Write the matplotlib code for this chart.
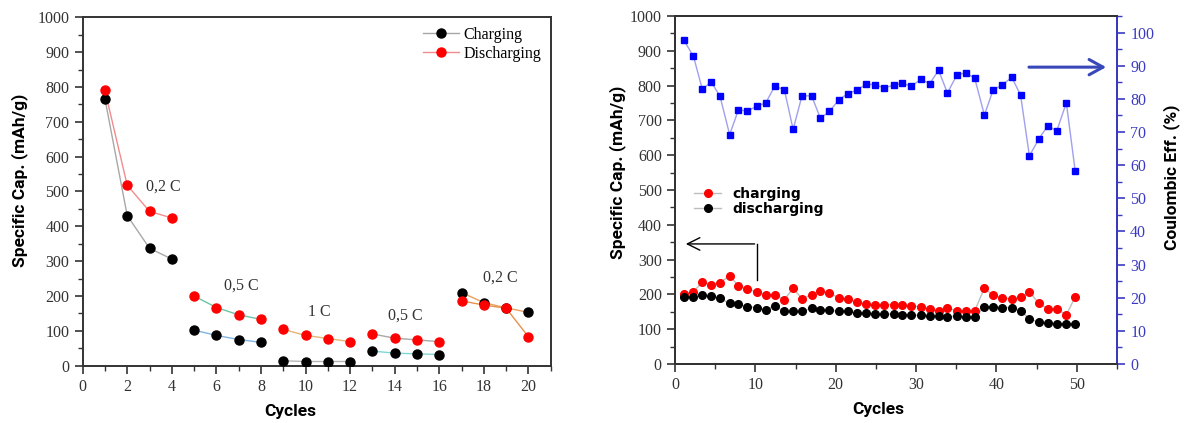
#!/usr/bin/env python3
"""Rate capability and cycling performance plot."""

import matplotlib.pyplot as plt
from matplotlib.ticker import MultipleLocator

# ---- left panel: rate test ----
cycles = list(range(1, 21))
charge = [766, 431, 337, 306, 102, 87, 75, 67, 14, 12, 12, 12,
          42, 36, 34, 32, 210, 181, 166, 153]
discharge = [790, 518, 443, 424, 200, 167, 146, 133, 104, 87, 78, 69,
             91, 79, 74, 69, 186, 174, 165, 83]
rate_labels = ['0,2 C', '0,5 C', '1 C', '0,5 C', '0,2 C']
rate_label_x = [3.6, 7.1, 10.6, 14.5, 18.75]
rate_label_y = [513, 230, 155, 143, 252]

# ---- right panel: long cycling ----
cyc = [1.1, 2.3, 3.4, 4.5, 5.6, 6.8, 7.9, 9.0, 10.2, 11.3, 12.4, 13.6,
       14.7, 15.8, 17.0, 18.1, 19.2, 20.4, 21.5, 22.6, 23.8, 24.9,
       26.0, 27.2, 28.3, 29.4, 30.6, 31.7, 32.8, 33.9, 35.1, 36.2,
       37.3, 38.5, 39.6, 40.7, 41.9, 43.0, 44.1, 45.3, 46.4, 47.5,
       48.7, 49.8]
cap_charging = [200, 208, 235, 228, 234, 253, 225, 215, 208, 199, 199, 185,
                217, 188, 199, 210, 204, 190, 186, 177, 172, 170, 170,
                170, 169, 167, 164, 158, 153, 161, 153, 153, 153, 218,
                197, 191, 186, 192, 207, 174, 158, 158, 141, 193]
cap_discharging = [192, 193, 197, 196, 189, 174, 171, 165, 162, 156, 166, 151,
                   151, 151, 161, 155, 155, 151, 151, 147, 146, 144, 144,
                   143, 142, 140, 140, 138, 138, 136, 137, 136, 136, 163,
                   163, 162, 162, 153, 130, 120, 117, 116, 114, 114]
coulombic = [97.7, 92.8, 82.9, 85.1, 80.8, 69.2, 76.7, 76.3, 77.8, 78.8,
             83.8, 82.8, 70.8, 80.9, 80.9, 74.1, 76.2, 79.7, 81.6, 82.6,
             84.4, 84.3, 83.3, 84.1, 84.7, 83.8, 85.9, 84.6, 88.6, 81.8,
             87.3, 87.8, 86.2, 75.1, 82.8, 84.1, 86.5, 81.2, 62.8, 68.0,
             71.9, 70.3, 78.8, 58.2]

serif = 'Liberation Serif'
label_font = dict(family=['Roboto', 'DejaVu Sans'], weight='bold', size=12.5)
blue = '#3a3ac4'
tick_size = 11.5

fig = plt.figure(figsize=(11.84, 4.23), dpi=100)

# ================= left panel =================
ax1 = fig.add_axes([0.0698, 0.1355, 0.3953, 0.8236])
charge_line_colors = ['#a8a8a8', '#80b4e4', '#b4b4b4', '#7fd6d6', '#e8a060']
discharge_line_colors = ['#f28c8c', '#6cc4a4', '#e6b474', '#a8a8a8', '#e8904c']
for g in range(5):
    sl = slice(4 * g, 4 * g + 4)
    ax1.plot(cycles[sl], charge[sl], '-', color=charge_line_colors[g], lw=1,
             zorder=2)
    ax1.plot(cycles[sl], discharge[sl], '-', color=discharge_line_colors[g],
             lw=1, zorder=2)
ax1.plot(cycles, charge, 'o', color='black', ms=6.5, zorder=3)
ax1.plot(cycles, discharge, 'o', color='#ff0000', ms=6.5, zorder=4)

for txt, x, y in zip(rate_labels, rate_label_x, rate_label_y):
    ax1.text(x, y, txt, ha='center', va='center', family=serif, size=11.5,
             color='#333333')

# legend proxies
h1, = ax1.plot([], [], '-o', color='#a8a8a8', mfc='black', mec='black', ms=6.5, lw=1)
h2, = ax1.plot([], [], '-o', color='#f28c8c', mfc='#ff0000', mec='#ff0000', ms=6.5, lw=1)
ax1.legend([h1, h2], ['Charging', 'Discharging'], loc='upper right',
           frameon=False, prop={'family': serif, 'size': 11.5},
           handlelength=2.2, labelspacing=0.2, borderaxespad=0.2,
           handletextpad=0.3)

ax1.set_xlim(0, 21)
ax1.set_ylim(0, 1000)
ax1.xaxis.set_major_locator(MultipleLocator(2))
ax1.xaxis.set_minor_locator(MultipleLocator(1))
ax1.yaxis.set_major_locator(MultipleLocator(100))
ax1.yaxis.set_minor_locator(MultipleLocator(50))
ax1.tick_params(which='both', direction='out', colors='#333333',
                labelsize=tick_size, top=False, right=False)
ax1.tick_params(which='major', length=6, width=1.2)
ax1.tick_params(which='minor', length=3.5, width=1)
for lab in ax1.get_xticklabels() + ax1.get_yticklabels():
    lab.set_family(serif)
for sp in ax1.spines.values():
    sp.set_linewidth(1.4)
    sp.set_color('#333333')
ax1.set_xlabel('Cycles', **label_font)
ax1.set_ylabel('Specific Cap. (mAh/g)', **label_font)
ax1.xaxis.set_label_coords(0.443, -0.11)
ax1.yaxis.set_label_coords(-0.117, 0.533)

# ================= right panel =================
ax2 = fig.add_axes([0.5701, 0.1395, 0.3733, 0.8227])
ax3 = ax2.twinx()

ax2.plot(cyc, cap_charging, '-', color='#bdbdbd', lw=1, zorder=2)
ax2.plot(cyc, cap_discharging, '-', color='#bdbdbd', lw=1, zorder=2)
ax2.plot(cyc, cap_charging, 'o', color='#ff0000', ms=5.5, zorder=3)
ax2.plot(cyc, cap_discharging, 'o', color='black', ms=5.5, zorder=3)
ax3.plot(cyc, coulombic, '-s', color='#a0a0ee', mfc='#0000ff', mec='#0000ff',
         ms=4.8, lw=1)

h3, = ax2.plot([], [], '-o', color='#bdbdbd', mfc='#ff0000', mec='#ff0000', ms=5.5, lw=1)
h4, = ax2.plot([], [], '-o', color='#bdbdbd', mfc='black', mec='black', ms=5.5, lw=1)
ax2.legend([h3, h4], ['charging', 'discharging'], loc='upper left',
           bbox_to_anchor=(0.014, 0.545), frameon=False,
           prop={'family': ['DejaVu Sans'], 'weight': 'semibold', 'size': 10},
           handlelength=2.0, labelspacing=0.1, handletextpad=0.8)

# arrows
ax2.plot([10.2, 10.2], [241, 345], color='black', lw=1)
ax2.annotate('', xy=(1.0, 345), xytext=(10.25, 345),
             arrowprops=dict(arrowstyle='->,head_length=0.9,head_width=0.45',
                             color='black', lw=1))
ax2.annotate('', xy=(54.0, 853), xytext=(43.7, 853),
             arrowprops=dict(arrowstyle='->,head_length=1.0,head_width=0.55',
                             color='#3848b8', lw=2.2))

ax2.set_xlim(0, 55)
ax2.set_ylim(0, 1000)
ax3.set_ylim(0, 105)
ax2.xaxis.set_major_locator(MultipleLocator(10))
ax2.xaxis.set_minor_locator(MultipleLocator(5))
ax2.yaxis.set_major_locator(MultipleLocator(100))
ax2.yaxis.set_minor_locator(MultipleLocator(50))
ax3.yaxis.set_major_locator(MultipleLocator(10))
ax3.yaxis.set_minor_locator(MultipleLocator(5))
ax2.tick_params(which='both', direction='out', colors='#333333',
                labelsize=tick_size, top=False, right=False)
ax2.tick_params(which='major', length=6, width=1.2)
ax2.tick_params(which='minor', length=3.5, width=1)
ax3.tick_params(which='both', direction='out', colors=blue, labelsize=tick_size)
ax3.tick_params(which='major', length=6, width=1.2)
ax3.tick_params(which='minor', length=3.5, width=1)
for lab in (ax2.get_xticklabels() + ax2.get_yticklabels()
            + ax3.get_yticklabels()):
    lab.set_family(serif)
for sp in ax2.spines.values():
    sp.set_linewidth(1.4)
    sp.set_color('#333333')
for name, sp in ax3.spines.items():
    sp.set_linewidth(1.4)
    sp.set_color(blue if name == 'right' else '#333333')

ax2.set_xlabel('Cycles', **label_font)
ax2.set_ylabel('Specific Cap. (mAh/g)', **label_font)
ax3.set_ylabel('Coulombic Eff. (%)', **label_font)
ax2.xaxis.set_label_coords(0.459, -0.11)
ax2.yaxis.set_label_coords(-0.111, 0.552)
ax3.yaxis.set_label_coords(1.104, 0.537)

fig.savefig('out.png', dpi=100)
